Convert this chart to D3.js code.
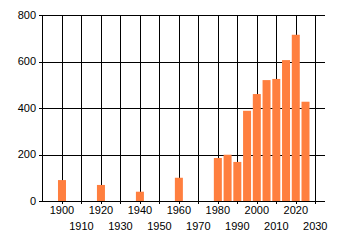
<!DOCTYPE html>
<html><head><meta charset="utf-8">
<script src="https://cdn.jsdelivr.net/npm/d3@7"></script>
<style>body{margin:0;background:#fff;}svg{display:block;}</style>
</head><body>
<script>
const years = [1900,1920,1940,1960,1980,1985,1990,1995,2000,2005,2010,2015,2020,2025];
const values = [90,69,40,100,185,199,168,388,460,520,525,606,715,427];
const xTicks = [1900,1910,1920,1930,1940,1950,1960,1970,1980,1990,2000,2010,2020,2030];
const yTicks = [0,200,400,600,800];

const W=340,H=245;
const svg=d3.select("body").append("svg").attr("width",W).attr("height",H);
const x=d3.scaleLinear().domain([1890,2035]).range([42.5,325]);
const y=d3.scaleLinear().domain([0,800]).range([201,15]);
const font="'Liberation Sans', Arial, sans-serif";

// horizontal gridlines
svg.append("g").selectAll("line").data(yTicks).join("line")
  .attr("x1",39).attr("x2",325)
  .attr("y1",d=>Math.round(y(d))+0.5).attr("y2",d=>Math.round(y(d))+0.5)
  .attr("stroke","#000").attr("stroke-width",1);
// y axis line
svg.append("line").attr("x1",42.5).attr("x2",42.5).attr("y1",15).attr("y2",201.5)
  .attr("stroke","#000");
// vertical gridlines
svg.append("g").selectAll("line").data(xTicks).join("line")
  .attr("x1",d=>Math.round(x(d))+0.5).attr("x2",d=>Math.round(x(d))+0.5)
  .attr("y1",15).attr("y2",204)
  .attr("stroke","#000").attr("stroke-width",1);

// bars
const bw=8;
svg.append("g").selectAll("rect").data(years).join("rect")
  .attr("x",(d)=>x(d)-bw/2).attr("width",bw)
  .attr("y",(d,i)=>y(values[i])).attr("height",(d,i)=>y(0)-y(values[i]))
  .attr("fill","#FF7F3F");

// y labels
svg.append("g").selectAll("text").data(yTicks).join("text")
  .attr("x",36).attr("y",d=>y(d)).attr("dy","0.35em")
  .attr("text-anchor","end").attr("font-family",font).attr("font-size",11)
  .attr("fill","#000").text(d=>d);

// x labels
svg.append("g").selectAll("text").data(xTicks).join("text")
  .attr("x",d=>x(d)).attr("y",(d,i)=>(d%20===0)?210:226).attr("dy","0.35em")
  .attr("text-anchor","middle").attr("font-family",font).attr("font-size",11)
  .attr("fill","#000").text(d=>d);
</script>
</body></html>
